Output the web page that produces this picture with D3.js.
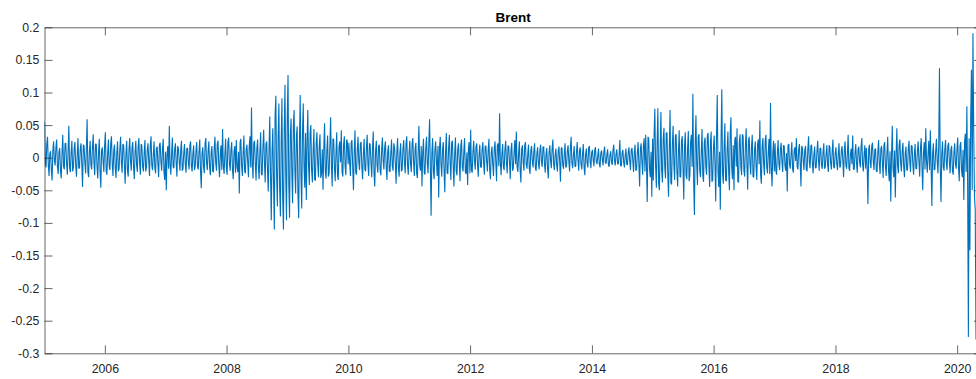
<!DOCTYPE html>
<html><head><meta charset="utf-8">
<script src="https://cdn.jsdelivr.net/npm/d3@7"></script>
<style>
body{margin:0;background:#fff}
svg{display:block}
text{font-family:"Liberation Sans",Arial,Helvetica,sans-serif}
</style>
</head><body>
<svg id="chart" width="976" height="379"></svg>
<script>
// ---------- data ----------
const chartTitle = "Brent";
const seriesStart = "2005-01-04";
const seriesEnd = "2020-04-23";
const xDomain = ["2005-01-04", "2020-05-29"];
const yDomain = [-0.3, 0.2];
const yTickValues = [-0.3, -0.25, -0.2, -0.15, -0.1, -0.05, 0, 0.05, 0.1, 0.15, 0.2];
const yTickLabels = ["-0.3", "-0.25", "-0.2", "-0.15", "-0.1", "-0.05", "0", "0.05", "0.1", "0.15", "0.2"];
const xTickYears = [2006, 2008, 2010, 2012, 2014, 2016, 2018, 2020];

// log returns in percent (evenly spaced in time, ~4.6 days apart)
const r2005 = [5.5,-0.8,-1.5,2.1,3.2,-1.1,-2.8,0.6,1.0,-1.9,-3.5,1.2,2.5,-0.5,-1.2,1.6,2.8,-1.4,-2.5,0.9,1.5,-2.0,-3.2,0.7,3.5,-1.3,-1.8,2.2,2.2,-0.9,-2.6,1.1,4.9,-1.6,-2.2,0.8,2.6,-2.1,-1.5,1.4,
  2.4,-1.2,-2.9,0.5,3.0,-1.6,-1.6,1.4,2.2,-0.9,-4.5,2.0,1.8,-0.7,-2.4,1.3,5.9,-2.2,-3.0,0.9,2.6,-1.1,-1.8,1.6,3.6,-0.8,-2.7,2.1,2.1,-1.4,-3.2,0.8,2.9,-2.1,-4.6,1.1,1.6,-0.6,-2.2,1.9];
const r2006 = [3.9,-2.0,-2.6,0.7,2.8,-1.3,-1.9,2.2,3.3,-0.9,-2.8,1.1,2.0,-1.6,-3.1,0.8,2.5,-2.1,-1.7,1.4,3.2,-0.8,-2.3,2.1,1.9,-1.1,-4.0,0.6,2.6,-1.9,-2.9,1.2,3.0,-0.5,-2.0,1.6,2.4,-1.4,-3.3,0.9,
  2.6,-1.1,-2.2,1.6,3.0,-0.8,-2.6,2.1,1.8,-1.4,-2.1,0.8,2.7,-2.1,-1.5,1.1,2.2,-0.6,-2.8,1.9,3.3,-1.2,-1.9,0.5,2.5,-1.6,-2.4,1.4,1.7,-0.9,-3.0,2.0,2.3,-0.7,-2.0,1.3,2.9,-2.2,-3.4,0.9];
const r2007 = [-5.0,0.5,1.8,-1.7,4.9,-1.1,-2.6,0.5,3.1,-1.4,-1.6,1.3,2.2,-0.8,-2.9,1.8,1.4,-0.6,-2.0,1.2,2.6,-2.0,-1.7,0.8,2.1,-1.0,-2.3,1.4,1.5,-0.7,-1.8,1.9,2.5,-1.3,-2.1,0.7,1.9,-1.9,-1.4,1.0,
  2.4,-1.4,-1.8,0.9,2.8,-2.0,-4.7,0.7,1.6,-1.3,-2.4,2.2,3.0,-0.9,-1.9,1.1,2.5,-1.6,-2.7,0.8,1.8,-2.1,-2.2,1.4,3.2,-0.8,-2.0,2.1,2.6,-1.1,-3.0,0.6,1.9,-1.9,4.4,-1.2,-2.5,0.5,2.9,-1.6];
const r2008 = [-2.6,2.4,3.1,-1.0,-2.0,1.2,2.4,-1.8,-3.3,0.9,1.8,-2.3,2.7,-1.5,-2.2,0.9,-5.5,2.3,2.9,-1.2,-2.8,0.7,3.4,-2.1,-2.4,1.3,2.0,-0.6,-3.0,1.8,3.3,-1.5,7.7,-1.0,-3.2,2.2,2.6,-0.8,-3.5,1.4,
  2.8,-1.4,-3.3,0.8,3.9,-2.5,-2.7,1.6,4.3,-0.7,-3.8,2.1,2.5,-1.8,-5.2,1.2,6.3,-2.6,-9.6,0.9,4.5,-3.9,-11.0,6.6,9.5,-2.7,-7.5,3.3,8.3,-4.8,-9.0,2.4,9.1,-6.3,-11.0,4.2,11.2,-2.4,-9.6,6.3];
const r2009 = [12.7,-4.0,-9.2,3.5,6.0,-2.3,-7.0,5.0,7.3,-1.8,-5.5,3.3,4.8,-5.5,-9.3,2.3,9.6,-2.8,-7.8,4.0,8.3,-1.4,-4.6,3.8,-6.5,2.5,7.3,-1.4,-4.2,3.8,5.0,-2.0,-3.8,1.1,4.4,-3.4,-3.5,2.2,3.9,-0.9,
  -3.0,1.8,3.6,-3.1,-2.5,1.3,-4.9,1.5,5.3,-2.2,-3.2,1.1,3.4,-2.9,-2.4,2.0,6.2,-1.1,-4.4,2.9,2.8,-1.5,-3.6,0.8,3.9,-2.7,-3.4,1.7,2.5,-0.7,4.2,-2.2,-2.9,2.0,3.3,-1.3,-2.7,2.8,2.4,-1.0];
const r2010 = [2.3,-0.9,-2.8,2.3,2.7,-1.5,-5.0,0.9,4.2,-2.3,-2.6,1.2,3.2,-0.7,-1.9,2.1,2.4,-1.3,-3.3,0.6,2.9,-1.8,-2.1,1.5,3.5,-1.0,-2.8,2.2,2.0,-0.8,-3.0,1.4,4.0,-2.4,-4.4,1.0,2.6,-1.2,-2.3,1.8,
  2.0,-1.9,-2.7,1.2,3.1,-0.5,-1.8,1.6,2.5,-1.4,-3.4,0.9,1.9,-2.0,-2.2,0.7,2.8,-1.3,-2.0,2.2,1.6,-0.9,-4.0,1.1,3.0,-1.6,-2.9,0.8,2.2,-2.1,-1.8,1.4,2.7,-0.8,-2.4,2.1,3.3,-1.1,-2.6,0.6];
const r2011 = [2.6,-1.0,-2.2,2.2,3.0,-0.8,-2.8,1.4,2.3,-2.4,-3.1,1.0,4.9,-1.2,-2.0,1.8,-4.4,0.9,2.9,-2.3,-2.6,1.5,3.2,-0.9,-2.4,2.3,5.9,-1.2,-8.9,0.7,3.0,-2.1,-3.3,1.3,2.5,-0.6,-2.8,1.8,-6.1,1.5,
  3.2,-1.0,-2.9,1.2,2.4,-1.8,-5.3,0.9,3.8,-2.3,-2.5,1.5,3.5,-0.9,-3.4,2.3,2.6,-1.2,-4.4,0.7,3.1,-2.1,-2.7,1.3,2.2,-0.6,-3.6,1.8,2.8,-1.5,-2.1,1.0,3.0,-2.2,-2.5,0.8,-4.2,1.4,2.4,-2.4];
const r2012 = [4.3,-1.9,-2.3,1.0,2.6,-0.5,-1.8,1.7,2.2,-1.1,-2.9,0.5,2.0,-1.4,-1.5,1.3,2.4,-0.8,-2.6,1.8,1.8,-0.6,-2.1,1.2,2.9,-2.0,-3.3,0.8,1.7,-1.0,-2.8,1.4,2.5,-0.7,-3.6,1.9,2.2,-1.3,6.8,-0.7,
  -2.7,0.5,2.1,-1.4,-1.9,1.3,2.6,-0.8,-2.4,1.8,1.8,-0.6,-3.3,1.2,2.3,-2.0,-1.6,0.8,2.7,-1.0,4.0,-1.4,-2.2,0.7,2.5,-1.9,-3.8,1.3,1.9,-0.7,-2.0,1.9,2.4,-1.0,-1.7,0.5,2.0,-1.7,-2.5,1.1];
const r2013 = [1.8,-0.5,-1.5,1.0,2.2,-1.6,-2.0,0.7,1.6,-0.8,-1.8,1.2,2.0,-0.6,-1.4,1.6,1.7,-1.0,-2.3,0.6,1.5,-1.6,-3.2,0.8,1.9,-0.5,-1.6,1.4,2.8,-0.9,-1.9,0.4,1.4,-1.2,-2.1,1.0,1.7,-0.7,-3.7,1.5,
  1.5,-1.1,-1.7,0.6,2.2,-1.5,-1.3,1.0,1.9,-0.6,-2.1,1.5,3.2,-0.8,-1.6,0.4,1.8,-1.3,-1.4,0.8,2.4,-0.4,-2.0,1.1,1.6,-1.0,-1.8,0.6,2.1,-1.4,-2.7,0.5,1.4,-0.9,-1.5,1.5,1.8,-0.6,-1.6,0.8];
const r2014 = [1.2,-0.4,-1.3,1.2,1.6,-0.6,-1.0,0.3,1.4,-1.0,-1.5,0.7,1.1,-0.3,-1.2,0.9,1.7,-0.8,-0.9,0.5,1.3,-1.1,-1.4,0.4,1.0,-0.7,-1.1,1.2,2.0,-0.5,-1.2,0.6,1.3,-0.9,-1.0,0.4,2.7,-1.2,-1.3,0.8,
  1.2,-0.7,-1.5,0.3,1.4,-1.0,-1.1,0.8,1.6,-0.5,-1.9,1.2,1.5,-0.4,-2.2,0.8,2.0,-2.0,-1.8,0.8,2.4,-1.0,-4.4,1.4,2.2,-0.7,-2.6,1.9,3.0,-2.1,3.5,-1.2,-6.8,3.2,2.9,-1.7,-3.0,0.9,-6.0,2.9];
const r2015 = [-3.5,3.6,7.5,-1.3,-4.6,2.3,7.6,-4.0,-5.0,1.6,7.0,-2.0,-3.8,2.9,4.6,-1.4,-3.2,3.8,3.8,-2.5,-6.0,1.4,7.3,-3.8,-4.1,2.0,4.9,-1.1,-3.4,3.4,3.6,-2.2,-4.4,0.9,4.2,-2.9,-3.0,2.5,3.3,-1.6,
  -6.4,1.9,3.9,-2.7,-3.3,1.4,4.1,-3.6,-2.8,2.4,3.5,-1.4,9.8,-3.6,-8.8,1.9,6.5,-1.0,-4.2,3.2,3.6,-2.0,-3.0,0.9,4.4,-2.7,-3.7,2.4,3.1,-1.5,-2.6,3.4,3.8,-1.2,-4.5,2.2,4.0,-3.7,-3.4,1.5];
const r2016 = [3.4,-1.0,-6.7,3.2,9.6,-2.0,-4.5,0.9,-8.0,2.7,10.5,-2.4,-4.0,1.5,5.3,-3.4,-3.6,1.2,4.0,-2.2,-5.0,3.7,6.2,-1.5,-3.3,1.9,-5.0,2.7,3.2,-1.4,4.5,-3.6,-3.8,2.4,3.6,-1.4,-2.7,3.6,3.3,-1.9,
  -2.9,1.8,4.5,-1.2,-4.9,2.6,3.2,-0.9,-2.6,1.7,3.5,-2.9,-3.0,1.2,2.5,-1.4,-3.4,2.1,2.8,-1.0,5.7,-2.7,-4.0,1.8,3.0,-1.0,-2.7,2.7,3.5,-1.4,-2.4,0.8,2.9,-2.5,8.4,-1.6,-4.4,0.7,2.6,-2.1];
const r2017 = [2.2,-2.0,-2.6,0.8,2.7,-1.0,-1.9,1.4,2.3,-0.7,-2.2,1.9,1.8,-1.3,-2.0,0.7,-5.2,1.9,2.1,-1.0,-1.7,0.5,2.4,-1.7,-2.3,1.1,1.6,-0.5,3.0,-1.4,-1.8,1.3,2.1,-0.8,-4.4,1.8,1.5,-0.6,-1.9,1.2,
  1.8,-1.8,-2.1,1.2,3.3,-0.7,-1.6,1.8,2.0,-0.9,-2.4,0.5,1.7,-1.6,-1.5,1.0,2.6,-0.4,-2.0,1.4,1.5,-1.2,-1.7,0.8,2.2,-1.7,-1.4,0.6,1.9,-1.1,-2.2,1.9,1.6,-0.8,-1.8,0.9,2.8,-1.4,-1.6,0.7];
const r2018 = [1.6,-0.9,-1.9,0.5,2.2,-1.5,-1.3,1.0,1.8,-0.4,-3.0,1.3,2.5,-1.1,-1.7,0.7,3.5,-1.6,-2.0,0.6,1.4,-1.0,3.4,-1.8,-1.8,0.7,2.1,-0.9,-2.3,1.3,1.7,-0.6,-1.5,1.7,3.0,-1.1,-2.1,0.6,1.9,-1.7,
  1.5,-1.4,-7.1,1.3,2.0,-0.8,-1.6,1.8,2.3,-0.6,-1.9,1.2,1.4,-2.0,-2.2,0.8,2.7,-1.0,-2.5,1.4,1.8,-0.7,-3.1,1.9,2.4,-1.3,-2.8,0.7,3.2,-1.9,-3.6,1.0,-6.7,0.5,4.9,-1.7,-3.0,1.1,-6.1,0.5];
const r2019 = [4.5,-1.2,-2.4,2.0,2.8,-0.8,-2.1,1.0,2.3,-1.4,-3.0,0.7,1.7,-1.9,-1.9,1.3,2.6,-0.7,-2.2,1.9,1.8,-1.0,-2.6,0.5,2.1,-1.7,-1.7,1.1,2.5,-0.5,-2.9,1.4,3.0,-1.3,-5.0,0.8,2.4,-1.8,4.5,-0.6,
  -2.3,0.7,2.6,-1.9,4.2,-1.3,-7.4,0.7,2.2,-1.9,-1.8,1.0,2.9,-0.5,-2.4,1.7,13.7,-1.1,-6.8,0.5,2.5,-1.4,-2.0,1.3,2.7,-0.8,-1.9,1.8,2.3,-0.6,-2.4,1.2,1.8,-2.0,-2.6,0.8,2.2,-1.0,-1.7,1.4];
const r2020 = [3.1,-1.5,-3.6,1.8,2.4,-2.0,-3.0,1.2,-6.5,2.5,3.7,-2.2,7.9,-4.0,-27.5,3.0,-14.2,6.0,13.5,-5.0,19.1,4.0,-6.0,-8.0,-27.9];

const returnsPct = [].concat(r2005, r2006, r2007, r2008, r2009, r2010, r2011, r2012,
                             r2013, r2014, r2015, r2016, r2017, r2018, r2019, r2020);

// ---------- drawing ----------
const parse = d3.timeParse("%Y-%m-%d");
const box = {left: 44.5, right: 982, top: 27.3, bottom: 353.3};
const axisColor = "#262626";

const svg = d3.select("#chart");
const x = d3.scaleTime().domain(xDomain.map(parse)).range([box.left, box.right]);
const y = d3.scaleLinear().domain(yDomain).range([box.bottom, box.top]);
const t0 = parse(seriesStart).getTime(), t1 = parse(seriesEnd).getTime();
const dateOf = d3.scaleLinear().domain([0, returnsPct.length - 1]).range([t0, t1]);

svg.append("defs").append("clipPath").attr("id", "clip")
  .append("rect").attr("x", box.left).attr("y", box.top)
  .attr("width", box.right - box.left).attr("height", box.bottom - box.top);

const line = d3.line()
  .x((d, i) => x(new Date(dateOf(i))))
  .y(d => y(d / 100));

svg.append("path")
  .datum(returnsPct)
  .attr("clip-path", "url(#clip)")
  .attr("fill", "none")
  .attr("stroke", "#0072BD")
  .attr("stroke-width", 1.1)
  .attr("stroke-linejoin", "miter")
  .attr("stroke-miterlimit", 1)
  .attr("d", line);

const xTickDates = xTickYears.map(yr => new Date(yr, 0, 1));
const tickLen = 8;

function styleAxis(g) {
  g.selectAll("path.domain").attr("stroke", axisColor).attr("stroke-width", 0.7);
  g.selectAll(".tick line").attr("stroke", axisColor).attr("stroke-width", 0.7);
  g.selectAll(".tick text").attr("fill", axisColor).style("font-size", "12.3px")
    .style("font-family", '"Liberation Sans",Arial,Helvetica,sans-serif');
}

svg.append("g").attr("transform", `translate(0,${box.bottom})`)
  .call(d3.axisBottom(x).tickValues(xTickDates).tickFormat(d3.timeFormat("%Y"))
    .tickSizeInner(-tickLen).tickSizeOuter(0).tickPadding(10.5))
  .call(styleAxis);
svg.append("g").attr("transform", `translate(0,${box.top})`)
  .call(d3.axisTop(x).tickValues(xTickDates).tickFormat("")
    .tickSizeInner(-tickLen).tickSizeOuter(0))
  .call(styleAxis);
const yFmt = d => yTickLabels[yTickValues.indexOf(d)];
svg.append("g").attr("transform", `translate(${box.left},0)`)
  .call(d3.axisLeft(y).tickValues(yTickValues).tickFormat(yFmt)
    .tickSizeInner(-tickLen).tickSizeOuter(0).tickPadding(5.2))
  .call(styleAxis);
svg.append("g").attr("transform", `translate(${box.right},0)`)
  .call(d3.axisRight(y).tickValues(yTickValues).tickFormat("")
    .tickSizeInner(-tickLen).tickSizeOuter(0))
  .call(styleAxis);

svg.append("text")
  .attr("x", (box.left + box.right) / 2)
  .attr("y", 21.7)
  .attr("text-anchor", "middle")
  .attr("font-weight", "bold")
  .attr("font-size", "13.5px")
  .attr("fill", "#000")
  .text(chartTitle);
</script>
</body></html>
